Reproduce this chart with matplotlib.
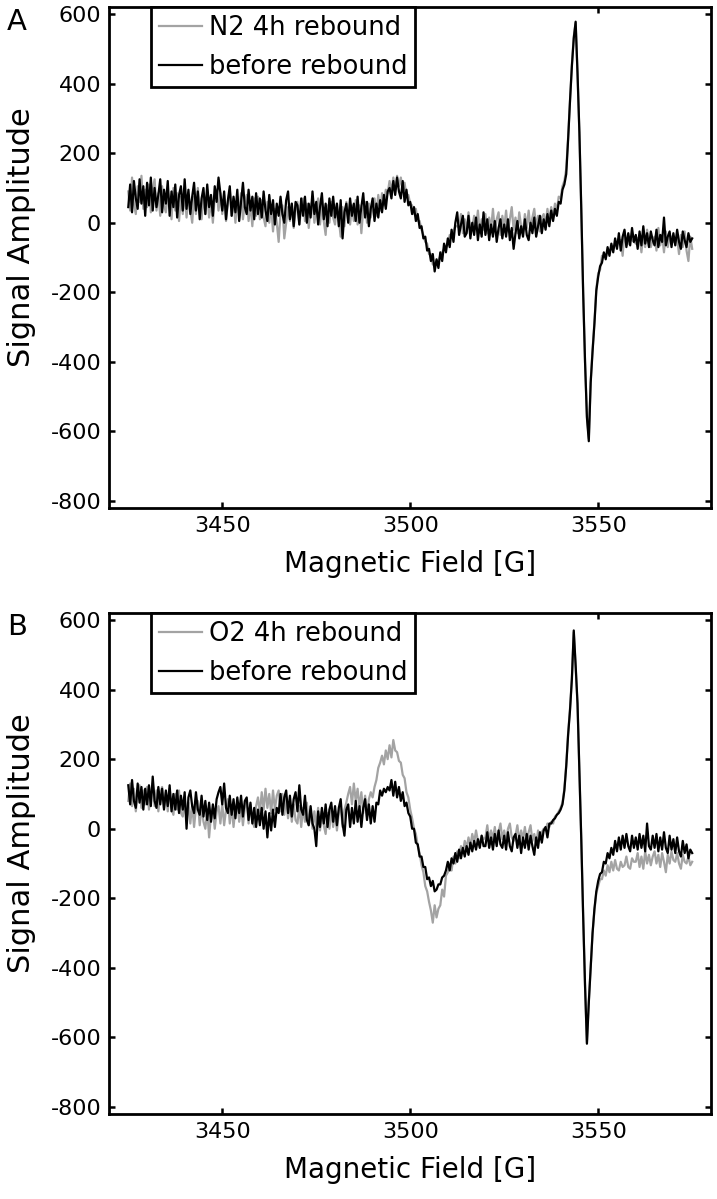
import numpy as np
import matplotlib
matplotlib.use("Agg")
import matplotlib.pyplot as plt

plt.rcParams['font.family'] = ['DejaVu Sans']
plt.rcParams['axes.unicode_minus'] = False

# Magnetic field grid (G), 0.5 G steps from 3425 to 3575
field_start, field_stop, field_step = 3425.0, 3575.0, 0.5

# Panel A: N2
a_rebound = [
    90, 35, 130, 55, 25, 105, 60, 135, 40, 95,
    45, 110, 30, 95, 125, 35, 85, 20, 105, 50,
    30, 90, 50, 10, 100, 35, 85, 5, 75, 25,
    90, 15, 80, 40, 0, 75, 25, 100, 40, 10,
    80, 25, 95, 15, 65, 0, 75, 95, 35, 85,
    25, 80, 5, 60, 95, 20, 70, 0, 75, 30,
    85, 10, 60, 80, 5, 55, -10, 70, 20, 75,
    10, 65, 15, -10, 60, 0, 50, -25, 40, 0,
    -55, 30, 50, -45, 0, 45, 5, 55, -15, 35,
    60, -5, 40, 70, 5, 55, -15, 45, 65, 0,
    40, 70, -5, 55, 5, -35, 50, 0, 60, 15,
    -5, 55, 10, -40, 45, -10, 60, 15, -5, 50,
    5, 65, -5, 50, -30, 40, 60, 0, 55, 15,
    45, 70, 20, 80, 35, 85, 50, 95, 85, 120,
    90, 130, 95, 135, 105, 130, 90, 115, 75, 80,
    55, 50, 25, 40, 5, 5, -20, -35, -55, -60,
    -90, -90, -120, -120, -110, -110, -95, -85, -75, -70,
    -60, -35, -35, -25, -10, -10, -15, 25, -30, 10,
    -25, 30, -20, -15, 20, -15, 35, -30, 10, -20,
    25, -30, 15, -20, 40, -25, 10, 30, -35, 20,
    -15, 35, -25, 10, 45, -20, 15, -30, 30, -10,
    -25, 25, -15, 35, -20, 15, 40, -15, 20, -25,
    15, 25, -5, 40, 5, 45, 15, 55, 35, 75,
    70, 105, 120, 155, 245, 350, 455, 535, 575, 425,
    255, 35, -205, -400, -555, -620, -455, -365, -285, -190,
    -145, -135, -95, -95, -100, -80, -85, -70, -75, -65,
    -65, -50, -50, -95, -25, -65, -60, -40, -50, -55,
    -60, -45, -40, -85, -30, -70, -20, -65, -70, -50,
    -40, -80, -15, -65, -35, -85, -25, -70, -40, -40,
    -55, -50, -45, -90, -35, -70, -25, -80, -110, -40,
    -75,
]
a_before = [
    45, 110, 30, 120, 70, 40, 125, 55, 105, 20,
    115, 50, 130, 35, 100, 45, 80, 125, 30, 95,
    55, 120, 20, 90, 45, 110, 15, 80, 105, 35,
    125, 40, 95, 25, 75, 115, 35, 90, 10, 70,
    100, 25, 110, 45, 80, 20, 105, 60, 130, 85,
    35, 90, 10, 65, 105, 20, 75, 30, 95, 5,
    60, 115, 45, 25, 95, 35, 75, 10, 85, 25,
    70, 15, 90, 35, 5, 80, 25, 65, -5, 55,
    20, 75, 25, 0, 65, 90, 10, 55, -10, 60,
    50, -5, 70, 20, 75, 0, 55, 15, 90, 25,
    60, -5, 45, 85, 10, 55, -10, 70, 20, 75,
    15, 55, -10, 65, -45, 30, 55, 0, 70, 20,
    55, 5, 75, 0, 45, 85, 15, 60, -10, 40,
    70, 5, 55, 15, 65, 30, 80, 40, 90, 100,
    70, 120, 80, 130, 90, 70, 120, 60, 95, 50,
    60, 25, 45, 5, 25, -15, -10, -45, -40, -80,
    -75, -110, -90, -140, -105, -130, -85, -110, -60, -85,
    -45, -70, -20, -55, 0, 30, -35, -5, 20, -40,
    -30, 20, -45, 0, -35, 15, -50, -5, -40, 30,
    -35, 10, -50, -5, -40, 5, -55, -15, 10, -45,
    -5, -40, 10, -50, -15, -75, -30, 5, -45, -10,
    -40, 10, -35, -50, 0, -30, 15, -40, -10, 20,
    -30, 10, -20, 25, -10, 35, 5, 40, 20, 60,
    55, 95, 110, 140, 240, 350, 450, 530, 578, 430,
    260, 40, -200, -400, -560, -628, -460, -370, -290, -195,
    -155, -125, -115, -85, -105, -70, -95, -60, -85, -45,
    -75, -30, -80, -40, -20, -70, -30, -65, -15, -55,
    -35, -75, -25, -65, -10, -60, -30, -70, -25, -50,
    -65, -20, -70, -35, -55, 15, -65, -40, -25, -70,
    -30, -65, -20, -55, -75, -25, -50, -70, -30, -55,
    -45,
]

# Panel B: O2
b_rebound = [
    80, 130, 65, 115, 50, 100, 125, 60, 110, 70,
    120, 55, 105, 130, 65, 110, 50, 100, 120, 60,
    105, 50, 115, 60, 40, 100, 55, 110, 45, 35,
    90, 25, 75, 15, 70, 5, 60, 80, 10, 65,
    20, 0, 55, -25, 40, 60, 0, 50, 65, 15,
    70, 10, 55, 85, 15, 65, 5, 60, 75, 20,
    65, 10, 60, 80, 15, 70, 25, 5, 65, 90,
    45, 105, 55, 115, 60, 100, 45, 110, 55, 95,
    110, 50, 100, 40, 90, 30, 75, 20, 70, 25,
    15, 65, 5, 60, 20, 75, 10, 55, 0, 50,
    5, 60, -5, 50, 10, -15, 45, 0, 55, 5,
    50, -5, 45, 65, 5, 55, 75, 100, 120, 70,
    130, 80, 115, 60, 105, 45, 95, 35, 85, 105,
    90, 120, 140, 175, 190, 210, 185, 225, 200, 240,
    205, 255, 225, 220, 195, 190, 155, 145, 105, 90,
    55, 30, 0, -15, -50, -70, -105, -125, -165, -180,
    -210, -235, -270, -220, -255, -230, -220, -175, -195, -135,
    -125, -100, -120, -80, -100, -65, -85, -50, -70, -35,
    -55, -25, -50, -15, -40, -5, -35, -40, -20, -30,
    -25, 10, -35, -5, -30, 5, -40, -10, 15, -30,
    -5, -40, 0, 15, -25, -35, -20, 10, -35, -5,
    -30, 5, -40, -10, 10, -35, -15, -45, -5, -30,
    -10, 0, -5, 15, 5, 20, 15, 35, 40, 50,
    60, 75, 115, 185, 275, 345, 435, 565, 465, 355,
    165, -35, -255, -455, -615, -495, -395, -300, -235, -185,
    -165, -145, -145, -120, -135, -105, -125, -95, -120, -90,
    -115, -120, -95, -110, -105, -80, -110, -115, -85, -95,
    -95, -70, -110, -80, -115, -65, -100, -75, -105, -80,
    -65, -100, -75, -110, -70, -95, -125, -75, -100, -65,
    -90, -95, -70, -100, -115, -75, -95, -100, -80, -105,
    -95,
]
b_before = [
    125, 70, 140, 80, 60, 130, 75, 120, 55, 115,
    70, 125, 65, 150, 80, 60, 120, 70, 115, 55,
    110, 65, 125, 50, 100, 55, 110, 45, 95, 55,
    105, 0, 90, 110, 65, 45, 105, 55, 40, 95,
    35, 80, 25, 75, 20, 70, 30, 85, 105, 120,
    70, 130, 60, 45, 95, 40, 85, 30, 90, 45,
    95, 35, 80, 90, 25, 75, 15, 60, 5, 55,
    10, 60, 0, 50, -25, 45, -5, 55, 5, 60,
    45, 100, 40, 90, 110, 45, 95, 35, 85, 105,
    50, 125, 55, 40, 95, 25, 10, 65, 15, 0,
    -50, 50, 5, 60, 15, 70, 5, 55, 75, 20,
    65, 10, 60, 85, 15, -20, 55, 70, 5, 60,
    15, 80, 20, 65, 5, 60, 85, 25, 70, 15,
    65, 20, 75, 70, 110, 95, 115, 105, 120, 110,
    140, 95, 135, 90, 120, 80, 105, 65, 75, 45,
    35, 0, 0, -40, -45, -80, -80, -110, -110, -145,
    -140, -165, -150, -180, -175, -160, -160, -140, -135, -120,
    -95, -120, -85, -100, -70, -95, -60, -85, -55, -80,
    -50, -75, -40, -65, -35, -60, -30, -55, -20, -50,
    -50, -10, -55, -25, -60, -15, -50, -5, -45, -55,
    -20, -60, -10, -50, -65, -25, -15, -55, -20, -70,
    -25, -55, -15, -60, -20, -50, -75, -25, -55, -10,
    -40, -5, 5, -25, 15, 15, 25, 30, 40, 45,
    55, 70, 110, 180, 270, 340, 430, 570, 470, 360,
    170, -30, -250, -450, -618, -500, -400, -300, -230, -180,
    -150, -130, -125, -95, -100, -70, -85, -55, -75, -35,
    -65, -25, -60, -20, -55, -15, -50, -65, -20, -55,
    -25, -60, -15, -55, -20, -65, 15, -50, -60, -20,
    -55, -15, -65, -25, -60, -10, -55, -70, -20, -60,
    -30, -70, -25, -65, -80, -35, -70, -45, -85, -60,
    -70,
]

x_ticks = [3450, 3500, 3550]
y_ticks = [-800, -600, -400, -200, 0, 200, 400, 600]
panels = [
    ("A", a_rebound, a_before, "N2 4h rebound"),
    ("B", b_rebound, b_before, "O2 4h rebound"),
]

field = np.arange(field_start, field_stop + field_step / 2, field_step)

fig = plt.figure(figsize=(7.17, 11.99), dpi=100)
positions = [[0.1527, 0.5763, 0.8389, 0.4178], [0.1527, 0.0709, 0.8389, 0.4178]]
letter_y = [1 - 22 / 1199, 1 - 627 / 1199]

gray = '#a3a3a3'
for (letter, reb, bef, lab), pos, ly in zip(panels, positions, letter_y):
    ax = fig.add_axes(pos)
    ax.plot(field, reb, color=gray, lw=1.6, label=lab)
    ax.plot(field, bef, color='black', lw=1.6, label='before rebound')
    ax.set_xlim(3420, 3580)
    ax.set_ylim(-820, 620)
    ax.set_xticks(x_ticks)
    ax.set_yticks(y_ticks)
    ax.tick_params(direction='in', length=4, width=1.8, top=True, right=True,
                   labelsize=16, pad=6)
    for sp in ax.spines.values():
        sp.set_linewidth(2.0)
    ax.set_xlabel('Magnetic Field [G]', fontsize=20, labelpad=10)
    ax.set_ylabel('Signal Amplitude', fontsize=22)
    ax.yaxis.set_label_coords(-0.123, 0.54)
    leg = ax.legend(loc='upper left', bbox_to_anchor=(0.069, 1.0), borderaxespad=0,
                    fontsize=18.5, handlelength=1.7, handletextpad=0.25,
                    borderpad=0.3, labelspacing=0.5, fancybox=False, framealpha=1)
    leg.get_frame().set_edgecolor('black')
    leg.get_frame().set_linewidth(2.0)
    fig.text(17 / 717, ly, letter, fontsize=21, ha='center', va='center')

fig.savefig('out.png', dpi=100)
